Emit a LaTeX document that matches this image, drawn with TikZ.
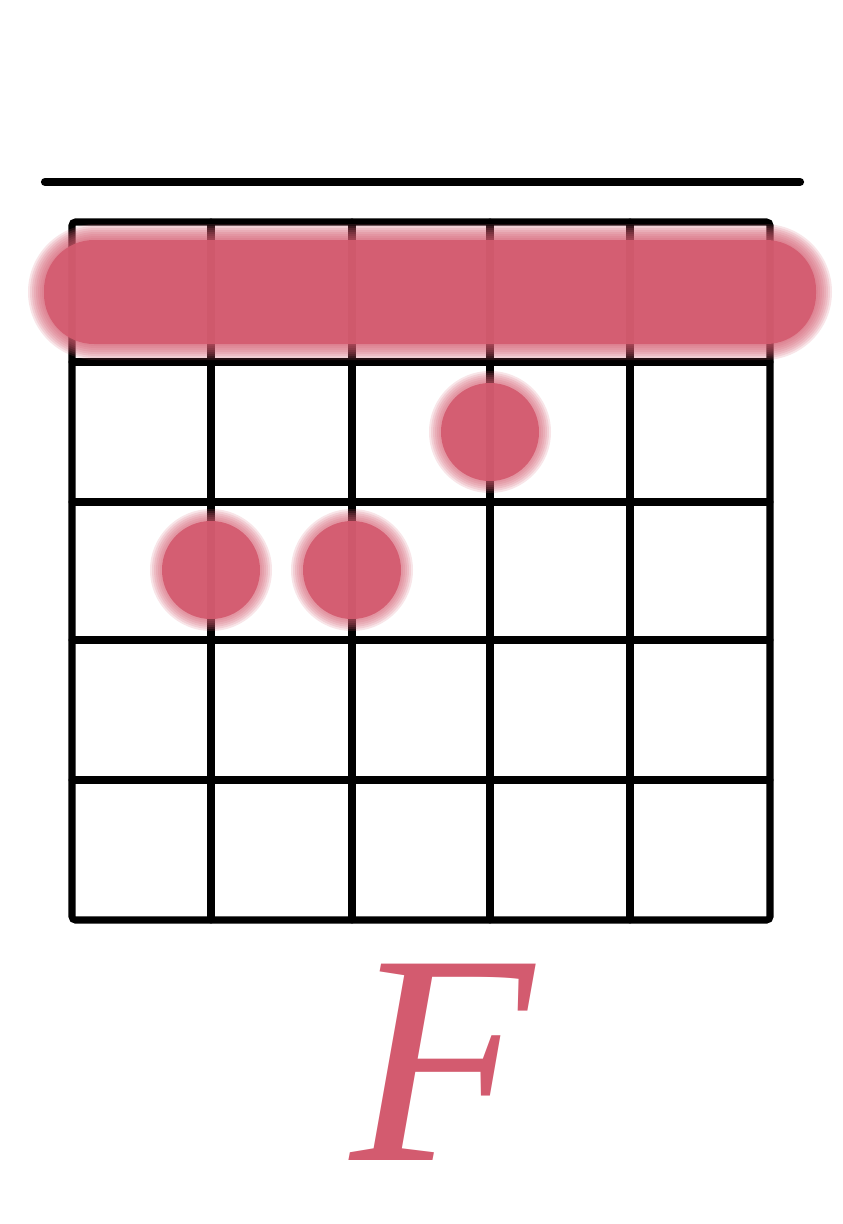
\documentclass[tikz,border=0pt]{standalone}
\usepackage{fontspec}
\usepackage{tikz}
\usetikzlibrary{positioning}
\newfontfamily\chordfont{Liberation Serif}
\definecolor{fingerpink}{RGB}{211,91,111}

\begin{document}
\begin{tikzpicture}[
  x=0.03cm, y=-0.03cm,
  gridline/.style={line width=6pt, line cap=round, black},
  nutline/.style={line width=7pt, line cap=round, black},
  blurfill/.style={fill=fingerpink, opacity=0.16},
  corefill/.style={fill=fingerpink, opacity=0.93}
]
\useasboundingbox (0,0) rectangle (843,1224);

% nut
\draw[nutline] (45,182) -- (800,182);

% frets and strings
\draw[gridline, rounded corners=3pt] (72,222) rectangle (770,920);
\foreach \x in {211,352,490,630}
  \draw[gridline] (\x,222) -- (\x,920);
\foreach \y in {362,502,640,780}
  \draw[gridline] (72,\y) -- (770,\y);

% barre, first fret
\foreach \d in {10,8,6,4,2,0,-2,-4}
  \fill[blurfill, rounded corners={(58+\d)*0.03cm}] ({38-\d},{234-\d}) rectangle ({822+\d},{350+\d});
\fill[corefill, rounded corners=1.5cm] (44,240) rectangle (816,344);

% fingers
\foreach \px/\py in {490/432, 211/570, 352/570} {
  \foreach \d in {8,6,4,2,0,-2,-4}
    \fill[blurfill] (\px,\py) circle [radius={53+\d}];
  \fill[corefill] (\px,\py) circle [radius=49];
}

% chord name
\node[text=fingerpink, font=\fontsize{256}{256}\selectfont\chordfont\itshape, anchor=base, inner sep=0pt] (chordname) at (442,1160) {F};
\end{tikzpicture}
\end{document}
